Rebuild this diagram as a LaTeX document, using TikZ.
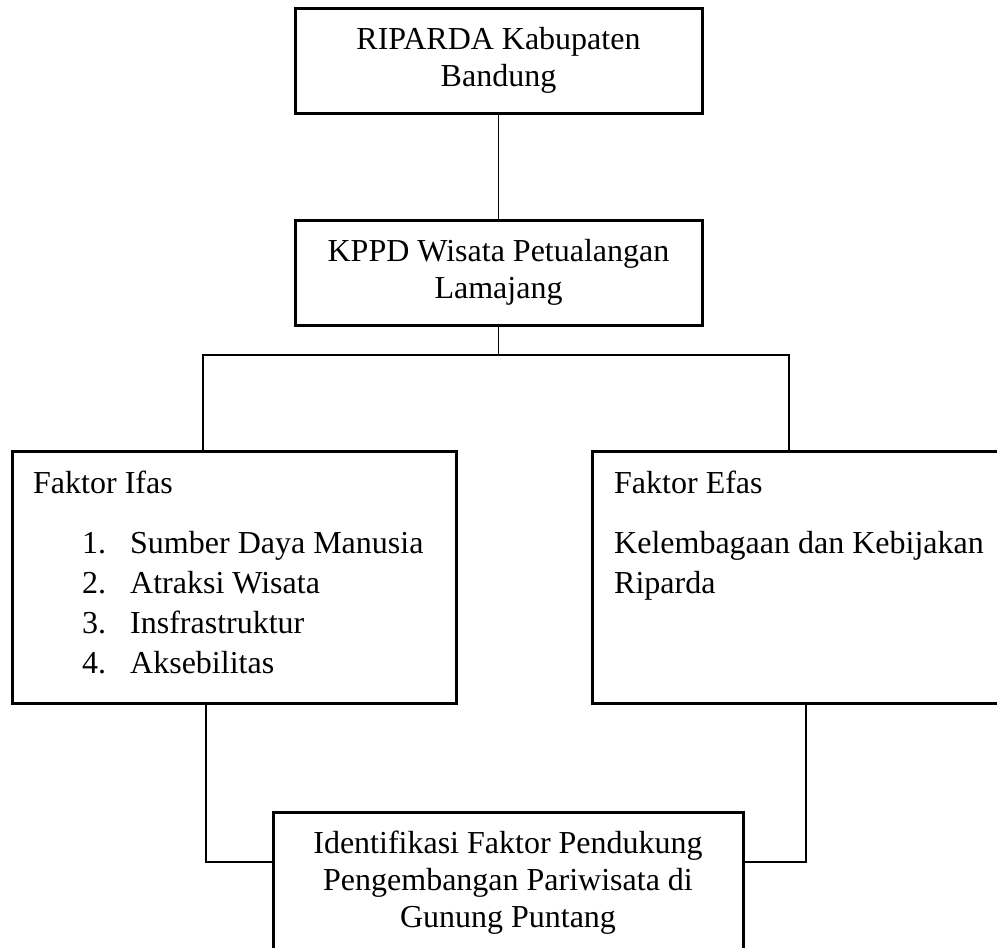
\documentclass[tikz,border=0pt]{standalone}
\usepackage{fontspec}
\setmainfont{Liberation Serif}
\usepackage{tikz}
\usetikzlibrary{calc}
\tikzset{
  kotak/.style={draw, line width=3pt, inner sep=0pt, align=center},
  teks/.style={inner sep=0pt, anchor=base west},
  garis/.style={line width=1.6pt}
}
\begin{document}
\begin{tikzpicture}[x=1pt, y=-1pt, font=\fontsize{32}{37}\selectfont]
\useasboundingbox (0,0) rectangle (997,948);
\clip (0,0) rectangle (997,948);
\node[kotak, minimum width=407pt, minimum height=105pt] (riparda) at (498.5,60.5) {RIPARDA Kabupaten\\Bandung};
\node[kotak, minimum width=407pt, minimum height=105pt] (kppd) at (498.5,272.5) {KPPD Wisata Petualangan\\Lamajang};
\node[kotak, minimum width=444pt, minimum height=252pt] (ifas) at (234,577) {};
\node[kotak, minimum width=413pt, minimum height=252pt] (efas) at (799,577) {};
\node[kotak, minimum width=470pt, minimum height=141pt] (hasil) at (508,882.5) {Identifikasi Faktor Pendukung\\Pengembangan Pariwisata di\\Gunung Puntang};
\node[teks] (ifasjudul) at (33,493) {Faktor Ifas};
\foreach \n/\isi in {1/Sumber Daya Manusia, 2/Atraksi Wisata, 3/Insfrastruktur, 4/Aksebilitas} {
  \node[teks] (no\n) at (82,{513+40*\n}) {\n.};
  \node[teks] (ifas\n) at (130,{513+40*\n}) {\isi};
}
\node[teks] (efasjudul) at (614,493) {Faktor Efas};
\node[teks] (efas1) at (614,553) {Kelembagaan dan Kebijakan};
\node[teks] (efas2) at (614,593) {Riparda};
\coordinate (busL) at (203,355);
\coordinate (busR) at (789,355);
\coordinate (tempL) at (206,862);
\coordinate (tempR) at (806,862);
\draw[garis] (riparda.south) -- (kppd.north);
\draw[garis] (kppd.south) -- (kppd.south |- busL);
\draw[garis] (ifas.north -| busL) -- (busL) -- (busR) -- (efas.north -| busR);
\draw[garis] (ifas.south -| tempL) -- (tempL) -- (tempL -| hasil.west);
\draw[garis] (efas.south -| tempR) -- (tempR) -- (tempR -| hasil.east);
\end{tikzpicture}
\end{document}
